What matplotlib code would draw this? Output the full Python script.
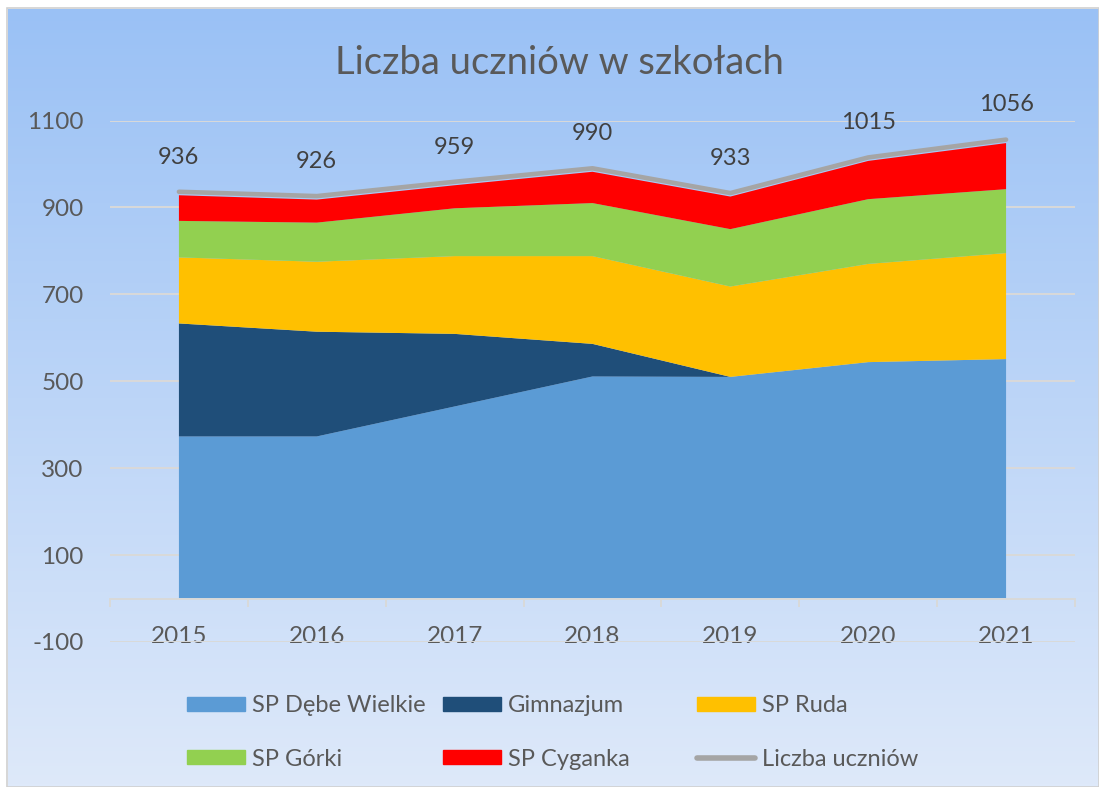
import matplotlib
matplotlib.use("Agg")
import matplotlib.pyplot as plt
import numpy as np
from matplotlib.patches import Rectangle
from matplotlib.lines import Line2D

plt.rcParams["font.family"] = ["Lato", "DejaVu Sans"]
plt.rcParams["axes.unicode_minus"] = False

# dane
years = ["2015", "2016", "2017", "2018", "2019", "2020", "2021"]
sp_debe = [373, 373, 442, 511, 510, 544, 551]
gimnazjum = [260, 241, 167, 75, 0, 0, 0]
sp_ruda = [152, 161, 179, 202, 208, 226, 244]
sp_gorki = [84, 90, 110, 122, 132, 149, 147]
sp_cyganka = [59, 53, 53, 72, 75, 88, 106]
liczba = [936, 926, 959, 990, 933, 1015, 1056]

labels = ["SP Dębe Wielkie", "Gimnazjum", "SP Ruda", "SP Górki", "SP Cyganka"]
colors = ["#5B9BD5", "#1F4E79", "#FFC000", "#92D050", "#FF0000"]
line_color = "#A5A5A5"
text_color = "#595959"

W, H = 1099, 787
fig = plt.figure(figsize=(W / 100, H / 100), dpi=100)

# tło z gradientem
bg = fig.add_axes([8 / W, 0, 1 - 8 / W, 1 - 9 / H], zorder=-10)
top_c = np.array([0x9A, 0xC1, 0xF5]) / 255
bot_c = np.array([0xDE, 0xE9, 0xFA]) / 255
t = np.linspace(0, 1, 256)[:, None]
grad = top_c * (1 - t) + bot_c * t
bg.imshow(grad[:, None, :], aspect="auto", extent=[0, 1, 0, 1])
bg.set_axis_off()
fig.patches.append(Rectangle((7 / W, 0), 1 - 7 / W, 1 - 8 / H, transform=fig.transFigure,
                             fill=False, edgecolor="#D0D0D0", linewidth=1.2, zorder=-5))

# wykres
ax = fig.add_axes([110 / W, 145 / H, 965 / W, 521.5 / H])
ax.patch.set_alpha(0)
x = np.arange(len(years))
ax.stackplot(x, sp_debe, gimnazjum, sp_ruda, sp_gorki, sp_cyganka,
             colors=colors, linewidth=0, zorder=2)
ax.plot(x, liczba, color=line_color, linewidth=3.3, solid_capstyle="round", zorder=3)

for i, v in enumerate(liczba):
    ax.annotate(str(v), (i, v), xytext=(0, 25), textcoords="offset points",
                ha="center", va="center", fontsize=17, color="#404040")

ax.set_xlim(-0.5, 6.5)
ax.set_ylim(-100, 1100)
ax.set_yticks(np.arange(-100, 1101, 200))
ax.yaxis.grid(True, color="#D9D9D9", linewidth=1.4, zorder=0)
ax.set_axisbelow(True)
ax.tick_params(axis="y", length=0, pad=19, labelsize=17.5, labelcolor=text_color)

for s in ["left", "right", "top"]:
    ax.spines[s].set_visible(False)
ax.spines["bottom"].set_position(("data", 0))
ax.spines["bottom"].set_color("#D9D9D9")
ax.spines["bottom"].set_linewidth(1.4)
ax.set_xticks(x)
ax.set_xticklabels(years)
ax.set_xticks(np.arange(-0.5, 7, 1), minor=True)
ax.tick_params(axis="x", which="major", length=0, pad=20, labelsize=17.5, labelcolor=text_color)
ax.tick_params(axis="x", which="minor", length=6, width=1.4, color="#D9D9D9")

fig.text(559 / W, 1 - 63 / H, "Liczba uczniów w szkołach", ha="center", va="center",
         fontsize=27.5, color=text_color)

# legenda - trzy kolumny
handles = [Rectangle((0, 0), 1, 1, color=c) for c in colors]
handles.append(Line2D([0], [0], color=line_color, linewidth=4, solid_capstyle="round"))
all_labels = labels + ["Liczba uczniów"]
cols = [(0, 3), (1, 4), (2, 5)]
col_x = [187, 443, 697]
for (a, b), cx in zip(cols, col_x):
    fig.legend([handles[a], handles[b]], [all_labels[a], all_labels[b]],
               loc="upper left", bbox_to_anchor=(cx / W, 1 - 695 / H),
               frameon=False, borderpad=0, borderaxespad=0, fontsize=17,
               handlelength=2.45, handleheight=0.55, handletextpad=0.3,
               labelspacing=1.38, labelcolor=text_color)

fig.savefig("out.png", dpi=100)
